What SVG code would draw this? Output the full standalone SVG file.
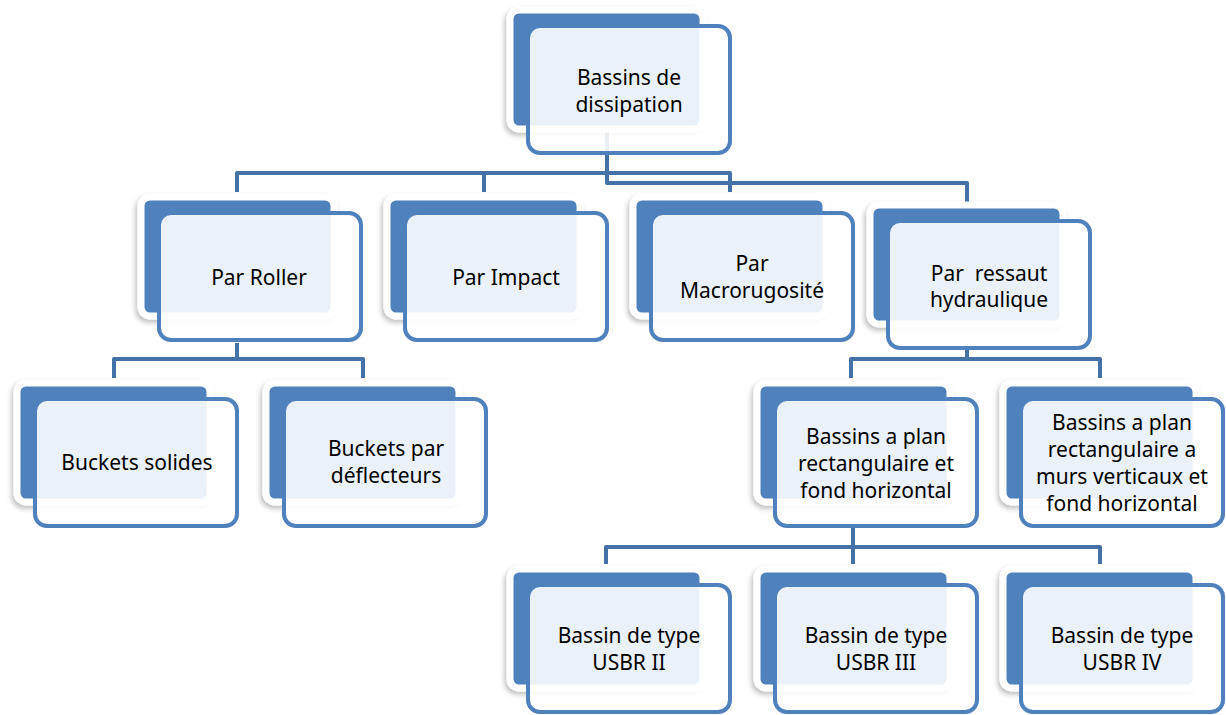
<svg xmlns="http://www.w3.org/2000/svg" width="1226" height="715" viewBox="0 0 1226 715">
<style>
.bk{fill:#4f81bd;stroke:#ffffff;stroke-width:7;filter:url(#sh)}
.fr{fill:#ffffff;fill-opacity:0.89;stroke:#4f81bd;stroke-width:4}
.cn{fill:none;stroke:#4471a6;stroke-width:4;stroke-linejoin:round}
text{font-family:"Noto Sans","DejaVu Sans",sans-serif;font-size:21px;fill:#000;text-anchor:middle}
</style>
<defs>
<filter id="sh" x="-10%" y="-10%" width="120%" height="125%">
<feDropShadow dx="-2" dy="3" stdDeviation="2.5" flood-color="#000" flood-opacity="0.25"/>
</filter>
</defs>
<rect width="1226" height="715" fill="#ffffff"/>
<g id="connectors">
<path class="cn" d="M607,130 V183 H967 V202"/>
<path class="cn" d="M237,192 V173 H730 V192"/>
<path class="cn" d="M484,173 V192"/>
<path class="cn" d="M237,343 V359 H114 V378"/>
<path class="cn" d="M237,359 H363 V378"/>
<path class="cn" d="M967,349 V359 H851 V378"/>
<path class="cn" d="M967,359 H1100 V378"/>
<path class="cn" d="M853,526 V547 H606 V564"/>
<path class="cn" d="M853,547 H1100 V564"/>
<path class="cn" d="M853,547 V564"/>
</g>
<g id="n-top">
<rect class="bk" x="510" y="10" width="193" height="119" rx="9"/>
<rect class="fr" x="528" y="26" width="202" height="127" rx="12"/>
<text x="629" y="85">Bassins de</text>
<text x="629" y="112">dissipation</text>
</g>
<g id="n-roller">
<rect class="bk" x="141" y="197" width="193" height="119" rx="9"/>
<rect class="fr" x="159" y="213" width="202" height="127" rx="12"/>
<text x="259" y="285">Par Roller</text>
</g>
<g id="n-impact">
<rect class="bk" x="387" y="197" width="193" height="119" rx="9"/>
<rect class="fr" x="405" y="213" width="202" height="127" rx="12"/>
<text x="506" y="285">Par Impact</text>
</g>
<g id="n-macro">
<rect class="bk" x="633" y="197" width="193" height="119" rx="9"/>
<rect class="fr" x="651" y="213" width="202" height="127" rx="12"/>
<text x="752" y="271">Par</text>
<text x="752" y="298">Macrorugosité</text>
</g>
<g id="n-ressaut">
<rect class="bk" x="870" y="205" width="193" height="119" rx="9"/>
<rect class="fr" x="888" y="221" width="202" height="127" rx="12"/>
<text x="989" y="281" xml:space="preserve">Par  ressaut</text>
<text x="989" y="307">hydraulique</text>
</g>
<g id="n-solides">
<rect class="bk" x="17" y="383" width="193" height="119" rx="9"/>
<rect class="fr" x="35" y="399" width="202" height="127" rx="12"/>
<text x="137" y="470">Buckets solides</text>
</g>
<g id="n-deflecteurs">
<rect class="bk" x="266" y="383" width="193" height="119" rx="9"/>
<rect class="fr" x="284" y="399" width="202" height="127" rx="12"/>
<text x="386" y="456">Buckets par</text>
<text x="386" y="483">déflecteurs</text>
</g>
<g id="n-plan">
<rect class="bk" x="757" y="383" width="193" height="119" rx="9"/>
<rect class="fr" x="775" y="399" width="202" height="127" rx="12"/>
<text x="876" y="444">Bassins a plan</text>
<text x="876" y="471">rectangulaire et</text>
<text x="876" y="498">fond horizontal</text>
</g>
<g id="n-murs">
<rect class="bk" x="1003" y="383" width="193" height="119" rx="9"/>
<rect class="fr" x="1021" y="399" width="202" height="127" rx="12"/>
<text x="1122" y="430">Bassins a plan</text>
<text x="1122" y="457">rectangulaire a</text>
<text x="1122" y="484">murs verticaux et</text>
<text x="1122" y="511">fond horizontal</text>
</g>
<g id="n-usbr2">
<rect class="bk" x="510" y="569" width="193" height="119" rx="9"/>
<rect class="fr" x="528" y="585" width="202" height="127" rx="12"/>
<text x="629" y="643">Bassin de type</text>
<text x="629" y="670">USBR II</text>
</g>
<g id="n-usbr3">
<rect class="bk" x="757" y="569" width="193" height="119" rx="9"/>
<rect class="fr" x="775" y="585" width="202" height="127" rx="12"/>
<text x="876" y="643">Bassin de type</text>
<text x="876" y="670">USBR III</text>
</g>
<g id="n-usbr4">
<rect class="bk" x="1003" y="569" width="193" height="119" rx="9"/>
<rect class="fr" x="1021" y="585" width="202" height="127" rx="12"/>
<text x="1122" y="643">Bassin de type</text>
<text x="1122" y="670">USBR IV</text>
</g>
</svg>
